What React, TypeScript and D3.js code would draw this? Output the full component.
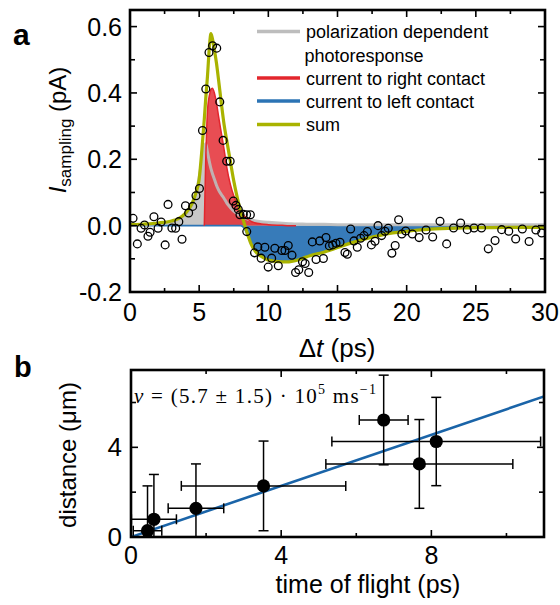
import React from 'react';
import * as d3 from 'd3';

// ---------- panel a data ----------
const curveT = [0,1,2,3,3.5,4,4.5,4.75,5,5.2,5.37,5.47,5.6,5.75,5.85,5.95,6.1,6.25,6.4,6.6,6.8,7.0,7.25,7.5,7.75,8,8.25,8.5,8.75,9,9.5,10,11,11.5,12,12.5,13,14,15,16,17,18,19,20,21,22,23,24,25,26,28,30];
const grayI = [0.002,0.003,0.006,0.012,0.019,0.033,0.062,0.095,0.145,0.2,0.236,0.247,0.222,0.19,0.172,0.158,0.14,0.122,0.108,0.094,0.082,0.068,0.055,0.044,0.036,0.029,0.024,0.02,0.017,0.015,0.012,0.01,0.007,0.006,0.005,0.005,0.004,0.004,0.003,0.003,0.003,0.003,0.003,0.003,0.003,0.003,0.003,0.003,0.003,0.003,0.003,0.003];
const redI = [0,0,0,0,0,0,0,0,0,0,0,0.19,0.345,0.395,0.41,0.414,0.4,0.37,0.33,0.28,0.23,0.175,0.125,0.09,0.065,0.045,0.03,0.02,0.013,0.009,0.005,0.003,0.001,0,0,0,0,0,0,0,0,0,0,0,0,0,0,0,0,0,0,0];
const blueI = [0,0,0,0,0,0,0,0,0,0,0,0,0,0,0,0,0,0,0,0,0,0,0,0,0,0,-0.008,-0.03,-0.055,-0.072,-0.09,-0.1,-0.106,-0.106,-0.102,-0.096,-0.089,-0.077,-0.063,-0.05,-0.038,-0.028,-0.02,-0.015,-0.011,-0.008,-0.006,-0.005,-0.004,-0.004,-0.003,-0.003];
const sumI = [0.003,0.005,0.008,0.014,0.021,0.037,0.068,0.097,0.14,0.23,0.32,0.38,0.45,0.545,0.579,0.565,0.53,0.49,0.44,0.37,0.305,0.255,0.195,0.135,0.085,0.042,0.008,-0.025,-0.055,-0.074,-0.093,-0.104,-0.109,-0.109,-0.105,-0.098,-0.091,-0.08,-0.066,-0.052,-0.04,-0.03,-0.022,-0.017,-0.013,-0.01,-0.008,-0.007,-0.006,-0.006,-0.005,-0.005];
const redStart = 5.37;
const blueStart = 8;

const pointT = [0.22,0.53,0.8,1.05,1.3,1.45,1.73,2.03,2.25,2.54,2.75,3.03,3.3,3.53,3.76,4.01,4.24,4.53,4.77,5.02,5.24,5.48,5.71,5.97,6.27,6.49,6.73,6.99,7.24,7.47,7.66,7.83,7.95,8.19,8.43,8.7,8.44,9.0,9.24,9.48,9.75,9.99,10.24,10.47,10.72,10.97,11.2,11.44,11.71,11.97,12.2,12.47,12.66,12.92,13.18,13.45,13.71,13.98,14.17,14.41,14.65,14.89,15.18,15.54,15.71,15.95,16.19,16.43,16.67,16.92,17.16,17.45,17.71,17.93,18.19,18.43,18.67,18.93,19.17,19.42,19.65,19.93,20.41,20.9,21.4,21.88,22.41,22.89,23.39,23.9,24.38,24.87,25.41,25.9,26.39,26.87,27.38,27.88,28.36,28.85,29.34,29.76];
const pointI = [0.022,-0.055,-0.008,0.002,-0.032,-0.02,0.027,-0.008,0.011,-0.058,0.064,-0.007,-0.008,0.012,-0.041,0.06,0.038,0.058,0.09,0.112,0.287,0.412,0.522,0.542,0.535,0.373,0.257,0.194,0.194,0.074,0.061,0.049,0.033,0.034,0.033,0.033,-0.018,-0.082,-0.064,-0.098,-0.065,-0.125,-0.098,-0.068,-0.121,-0.075,-0.075,-0.06,-0.089,-0.141,-0.133,-0.109,-0.114,-0.141,-0.049,-0.102,-0.046,-0.099,-0.036,-0.061,-0.058,-0.053,-0.05,-0.081,-0.086,-0.01,-0.046,-0.065,-0.038,-0.03,-0.018,-0.058,-0.047,0.0,-0.03,-0.017,-0.008,-0.083,-0.06,0.018,-0.025,-0.016,-0.025,-0.036,-0.013,-0.034,0.013,-0.055,-0.007,0.008,-0.012,-0.007,-0.007,-0.07,-0.045,-0.012,-0.017,-0.04,-0.01,-0.048,-0.013,-0.022];

const aXTicks = [0,5,10,15,20,25,30];
const aXMinor = [2.5,7.5,12.5,17.5,22.5,27.5];
const aYTicks = [-0.2,0,0.2,0.4,0.6];
const aYTickLabels = ['-0.2','0.0','0.2','0.4','0.6'];
const aYMinor = [-0.1,0.1,0.3,0.5];
const legendLabels = ['polarization dependent', 'photoresponse', 'current to right contact', 'current to left contact', 'sum'];

// ---------- panel b data ----------
const tof = [0.44,0.61,1.73,3.53,6.73,7.68,8.13];
const tofErr = [0.38,0.6,0.74,2.19,0.65,2.49,2.78];
const dist = [0.28,0.79,1.28,2.28,5.22,3.26,4.26];
const distErr = [2,2,1.98,2,2,1.98,1.97];
const fitT = [0,11];
const fitD = [0,6.27];
const bXTicks = [0,4,8];
const bXMinor = [2,6,10];
const bYTicks = [0,4];
const bYMinor = [2,6];

const GRAY = '#bdbdbd';
const RED = '#e3262d';
const BLUE = '#2c74b5';
const OLIVE = '#a9b300';
const SANS = '"Liberation Sans", Arial, Helvetica, sans-serif';
const SERIF = '"Liberation Serif", "DejaVu Serif", serif';

export default function App() {
  // panel a geometry
  const aL = 130, aR = 545, aT = 10, aB = 292;
  const xA = d3.scaleLinear().domain([0, 30]).range([aL, aR]);
  const yA = d3.scaleLinear().domain([-0.2, 0.65]).range([aB, aT]);

  const idx = curveT.map((_, i) => i);
  const grayArea = d3.area<number>().x(i => xA(curveT[i])).y0(yA(0)).y1(i => yA(grayI[i])).curve(d3.curveMonotoneX)(idx) || '';
  const grayLine = d3.line<number>().x(i => xA(curveT[i])).y(i => yA(grayI[i])).curve(d3.curveMonotoneX)(idx) || '';
  const redIdx = idx.filter(i => curveT[i] >= redStart && curveT[i] <= 12);
  const redArea = d3.area<number>().x(i => xA(curveT[i])).y0(yA(0)).y1(i => yA(redI[i])).curve(d3.curveMonotoneX)(redIdx) || '';
  const redLine = d3.line<number>().x(i => xA(curveT[i])).y(i => yA(redI[i])).curve(d3.curveMonotoneX)(redIdx) || '';
  const blueIdx = idx.filter(i => curveT[i] >= blueStart);
  const blueArea = d3.area<number>().x(i => xA(curveT[i])).y0(yA(0)).y1(i => yA(blueI[i])).curve(d3.curveMonotoneX)(blueIdx) || '';
  const blueLine = d3.line<number>().x(i => xA(curveT[i])).y(i => yA(blueI[i])).curve(d3.curveMonotoneX)(idx) || '';
  const sumLine = d3.line<number>().x(i => xA(curveT[i])).y(i => yA(sumI[i])).curve(d3.curveMonotoneX)(idx) || '';

  // panel b geometry
  const bL = 131, bR = 544, bT = 370, bB = 537;
  const xB = d3.scaleLinear().domain([0, 11]).range([bL, bR]);
  const yB = d3.scaleLinear().domain([0, 7.45]).range([bB, bT]);
  const fitLine = d3.line<number>().x(i => xB(fitT[i])).y(i => yB(fitD[i]))([0, 1]) || '';

  const tickStroke = { stroke: '#000', strokeWidth: 1.6 };
  const legY = [31.5, 55, 78, 101, 124.5];

  return (
    <svg width={560} height={605} style={{ position: 'absolute', left: 0, top: 0, background: '#fff' }}>
      <defs>
        <clipPath id="clipA"><rect x={aL} y={aT} width={aR - aL} height={aB - aT} /></clipPath>
        <clipPath id="clipB"><rect x={bL} y={bT} width={bR - bL} height={bB - bT} /></clipPath>
      </defs>

      {/* ---------------- panel a ---------------- */}
      <g clipPath="url(#clipA)">
        <path d={grayArea} fill={GRAY} fillOpacity={0.85} />
        <path d={redArea} fill={RED} fillOpacity={0.82} />
        <path d={blueArea} fill={BLUE} fillOpacity={0.95} />
        <path d={blueLine} fill="none" stroke={BLUE} strokeWidth={1.6} />
        <path d={grayLine} fill="none" stroke={GRAY} strokeWidth={3} strokeOpacity={0.9} />
        <path d={redLine} fill="none" stroke={RED} strokeWidth={1.5} />
        <path d={sumLine} fill="none" stroke={OLIVE} strokeWidth={3.2} />
        {pointT.map((t, i) => (
          <circle key={i} cx={xA(t)} cy={yA(pointI[i])} r={3.9} fill="none" stroke="#000" strokeWidth={1.3} />
        ))}
      </g>
      {/* ticks */}
      {aXTicks.map(t => (
        <g key={'ax' + t}>
          <line x1={xA(t)} x2={xA(t)} y1={aB} y2={aB - 7} {...tickStroke} />
          <line x1={xA(t)} x2={xA(t)} y1={aT} y2={aT + 7} {...tickStroke} />
          <text x={xA(t)} y={321} textAnchor="middle" fontFamily={SANS} fontSize={25}>{t}</text>
        </g>
      ))}
      {aXMinor.map(t => (
        <g key={'axm' + t}>
          <line x1={xA(t)} x2={xA(t)} y1={aB} y2={aB - 4} {...tickStroke} />
          <line x1={xA(t)} x2={xA(t)} y1={aT} y2={aT + 4} {...tickStroke} />
        </g>
      ))}
      {aYTicks.map((v, i) => (
        <g key={'ay' + v}>
          <line x1={aL} x2={aL + 7} y1={yA(v)} y2={yA(v)} {...tickStroke} />
          <line x1={aR} x2={aR - 7} y1={yA(v)} y2={yA(v)} {...tickStroke} />
          <text x={122} y={yA(v) + 9} textAnchor="end" fontFamily={SANS} fontSize={25}>{aYTickLabels[i]}</text>
        </g>
      ))}
      {aYMinor.map(v => (
        <g key={'aym' + v}>
          <line x1={aL} x2={aL + 5} y1={yA(v)} y2={yA(v)} {...tickStroke} />
          <line x1={aR} x2={aR - 5} y1={yA(v)} y2={yA(v)} {...tickStroke} />
        </g>
      ))}
      <rect x={aL} y={aT} width={aR - aL} height={aB - aT} fill="none" stroke="#000" strokeWidth={2.6} />

      {/* legend */}
      <line x1={257} x2={300} y1={legY[0]} y2={legY[0]} stroke={GRAY} strokeWidth={3.5} />
      <line x1={257} x2={300} y1={legY[2]} y2={legY[2]} stroke={RED} strokeWidth={3.5} />
      <line x1={257} x2={300} y1={legY[3]} y2={legY[3]} stroke={BLUE} strokeWidth={3.5} />
      <line x1={257} x2={300} y1={legY[4]} y2={legY[4]} stroke={OLIVE} strokeWidth={3.5} />
      {legendLabels.map((s, i) => (
        <text key={s} x={i === 1 ? 304.5 : 306} y={legY[i] + 6.5} fontFamily={SANS} fontSize={18}>{s}</text>
      ))}

      {/* axis titles a */}
      <text transform="translate(66,130) rotate(-90)" textAnchor="middle" fontFamily={SANS} fontSize={24}>
        <tspan fontStyle="italic">I</tspan>
        <tspan fontSize={17} dy={5}>sampling</tspan>
        <tspan dy={-5}> (pA)</tspan>
      </text>
      <text x={337} y={357} textAnchor="middle" fontFamily={SANS} fontSize={26}>
        Δ<tspan fontStyle="italic">t</tspan> (ps)
      </text>
      <text x={13} y={45} fontFamily={SANS} fontSize={30} fontWeight="bold">a</text>

      {/* ---------------- panel b ---------------- */}
      <g clipPath="url(#clipB)">
        <path d={fitLine} fill="none" stroke="#1a64a8" strokeWidth={2.6} />
        {tof.map((t, i) => {
          const cx = xB(t), cy = yB(dist[i]);
          const x0 = xB(t - tofErr[i]), x1 = xB(t + tofErr[i]);
          const y0 = yB(dist[i] - distErr[i]), y1 = yB(dist[i] + distErr[i]);
          return (
            <g key={i} stroke="#000" strokeWidth={1.5}>
              <line x1={x0} x2={x1} y1={cy} y2={cy} />
              <line x1={x0} x2={x0} y1={cy - 5} y2={cy + 5} />
              <line x1={x1} x2={x1} y1={cy - 5} y2={cy + 5} />
              <line x1={cx} x2={cx} y1={y0} y2={y1} />
              <line x1={cx - 5} x2={cx + 5} y1={y0} y2={y0} />
              <line x1={cx - 5} x2={cx + 5} y1={y1} y2={y1} />
              <circle cx={cx} cy={cy} r={6.6} fill="#000" stroke="none" />
            </g>
          );
        })}
      </g>
      {bXTicks.map(t => (
        <g key={'bx' + t}>
          <line x1={xB(t)} x2={xB(t)} y1={bB} y2={bB - 7} {...tickStroke} />
          <line x1={xB(t)} x2={xB(t)} y1={bT} y2={bT + 7} {...tickStroke} />
          <text x={xB(t)} y={564} textAnchor="middle" fontFamily={SANS} fontSize={25}>{t}</text>
        </g>
      ))}
      {bXMinor.map(t => (
        <g key={'bxm' + t}>
          <line x1={xB(t)} x2={xB(t)} y1={bB} y2={bB - 4} {...tickStroke} />
          <line x1={xB(t)} x2={xB(t)} y1={bT} y2={bT + 4} {...tickStroke} />
        </g>
      ))}
      {bYTicks.map(v => (
        <g key={'by' + v}>
          <line x1={bL} x2={bL + 7} y1={yB(v)} y2={yB(v)} {...tickStroke} />
          <line x1={bR} x2={bR - 7} y1={yB(v)} y2={yB(v)} {...tickStroke} />
          <text x={122} y={yB(v) + 9} textAnchor="end" fontFamily={SANS} fontSize={26}>{v}</text>
        </g>
      ))}
      {bYMinor.map(v => (
        <g key={'bym' + v}>
          <line x1={bL} x2={bL + 5} y1={yB(v)} y2={yB(v)} {...tickStroke} />
          <line x1={bR} x2={bR - 5} y1={yB(v)} y2={yB(v)} {...tickStroke} />
        </g>
      ))}
      <rect x={bL} y={bT} width={bR - bL} height={bB - bT} fill="none" stroke="#000" strokeWidth={2.6} />

      <text x={134} y={403} fontFamily={SERIF} fontSize={21} textLength={242} lengthAdjust="spacing">
        <tspan fontStyle="italic">v</tspan> = (5.7 ± 1.5) · 10<tspan fontSize={14} dy={-9}>5</tspan>
        <tspan dy={9}> ms</tspan><tspan fontSize={14} dy={-9}>−1</tspan>
      </text>

      <text transform="translate(76,455) rotate(-90)" textAnchor="middle" fontFamily={SANS} fontSize={24}>distance (μm)</text>
      <text x={368} y={593} textAnchor="middle" fontFamily={SANS} fontSize={25}>time of flight (ps)</text>
      <text x={14} y={377} fontFamily={SANS} fontSize={29} fontWeight="bold">b</text>
    </svg>
  );
}
